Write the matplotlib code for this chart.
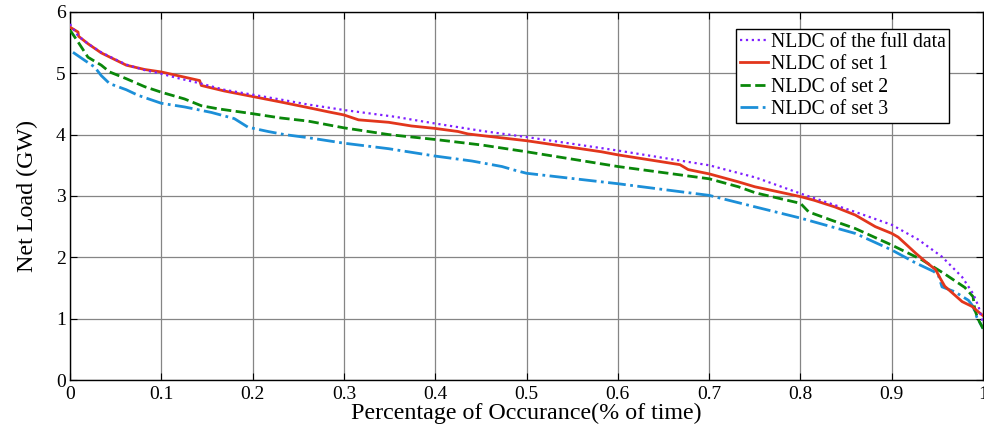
import matplotlib
matplotlib.use("Agg")
import matplotlib.pyplot as plt

plt.rcParams['font.family'] = ['Liberation Serif', 'DejaVu Serif']

# ---- data ----
x_full = [0.0, 0.0088, 0.0197, 0.0343, 0.0489, 0.0617, 0.0818, 0.1, 0.118, 0.1438, 0.169, 0.2, 0.231,
          0.2606, 0.3, 0.356, 0.4, 0.451, 0.5, 0.6, 0.7, 0.751, 0.8, 0.860, 0.9, 0.929, 0.955, 0.977,
          0.989, 0.995, 1.0]
y_full = [5.80, 5.61, 5.48, 5.34, 5.23, 5.14, 5.05, 4.99, 4.92, 4.83, 4.73, 4.65, 4.57,
          4.49, 4.40, 4.29, 4.18, 4.06, 3.96, 3.74, 3.50, 3.30, 3.04, 2.74, 2.53, 2.29, 2.01, 1.68,
          1.41, 1.20, 0.92]

x_set1 = [0.0, 0.0088, 0.0095, 0.0197, 0.0343, 0.0617, 0.0818, 0.1, 0.118, 0.142, 0.1438, 0.169, 0.2,
          0.231, 0.2606, 0.283, 0.3, 0.316, 0.349, 0.374, 0.4, 0.425, 0.436, 0.465, 0.5, 0.582,
          0.6, 0.668, 0.677, 0.7, 0.732, 0.75, 0.8, 0.815, 0.838, 0.860, 0.882, 0.9, 0.907, 0.926,
          0.937, 0.948, 0.953, 0.958, 0.977, 0.988, 0.995, 1.0]
y_set1 = [5.75, 5.67, 5.60, 5.48, 5.33, 5.13, 5.06, 5.02, 4.96, 4.88, 4.80, 4.71, 4.62,
          4.53, 4.44, 4.37, 4.32, 4.24, 4.20, 4.14, 4.10, 4.05, 4.01, 3.96, 3.90, 3.72,
          3.67, 3.51, 3.43, 3.36, 3.23, 3.15, 2.99, 2.93, 2.82, 2.69, 2.50, 2.39, 2.33, 2.07,
          1.93, 1.80, 1.66, 1.53, 1.28, 1.20, 1.11, 1.05]

x_set2 = [0.0, 0.0015, 0.0088, 0.0197, 0.0343, 0.0434, 0.0617, 0.0818, 0.1, 0.1255, 0.1438, 0.162,
          0.2, 0.231, 0.2606, 0.3, 0.349, 0.4, 0.451, 0.5, 0.6, 0.7, 0.732, 0.751, 0.8, 0.809,
          0.835, 0.860, 0.9, 0.933, 0.958, 0.980, 0.989, 0.991, 0.995, 1.0]
y_set2 = [5.70, 5.67, 5.51, 5.26, 5.13, 5.02, 4.91, 4.78, 4.69, 4.58, 4.47, 4.42,
          4.34, 4.27, 4.22, 4.11, 4.00, 3.92, 3.83, 3.72, 3.48, 3.28, 3.15, 3.05, 2.88, 2.74,
          2.60, 2.47, 2.20, 1.96, 1.73, 1.51, 1.36, 1.14, 0.98, 0.84]

x_set3 = [0.0033, 0.016, 0.027, 0.0343, 0.0434, 0.0617, 0.0745, 0.1, 0.1255, 0.155, 0.180, 0.195,
          0.217, 0.235, 0.2606, 0.3, 0.349, 0.4, 0.44, 0.473, 0.487, 0.5, 0.6, 0.7, 0.751, 0.8,
          0.860, 0.9, 0.926, 0.946, 0.951, 0.955, 0.969, 0.984, 0.989, 0.993, 1.0]
y_set3 = [5.34, 5.21, 5.10, 4.96, 4.83, 4.73, 4.64, 4.51, 4.45, 4.36, 4.26, 4.12,
          4.05, 4.00, 3.95, 3.86, 3.77, 3.65, 3.57, 3.48, 3.42, 3.37, 3.20, 3.01, 2.82, 2.64,
          2.39, 2.12, 1.91, 1.77, 1.71, 1.52, 1.44, 1.30, 1.20, 1.03, 0.84]

labels = ['NLDC of the full data', 'NLDC of set 1', 'NLDC of set 2', 'NLDC of set 3']
x_ticks = [0, 0.1, 0.2, 0.3, 0.4, 0.5, 0.6, 0.7, 0.8, 0.9, 1]
x_ticklabels = ['0', '0.1', '0.2', '0.3', '0.4', '0.5', '0.6', '0.7', '0.8', '0.9', '1']
y_ticks = [0, 1, 2, 3, 4, 5, 6]

fig = plt.figure(figsize=(9.84, 4.36), dpi=100)
ax = fig.add_axes([0.0711, 0.128, 0.928, 0.845])

ax.plot(x_full, y_full, color='#7f1fff', linestyle=':', linewidth=1.6, label=labels[0], zorder=5)
ax.plot(x_set1, y_set1, color='#e2361c', linestyle='-', linewidth=2.0, label=labels[1], zorder=4)
ax.plot(x_set2, y_set2, color='#0a870a', linestyle='--', linewidth=2.0, label=labels[2], zorder=3)
ax.plot(x_set3, y_set3, color='#1c8fd8', linestyle='-.', linewidth=2.0, label=labels[3], zorder=2)

ax.set_xlim(0, 1)
ax.set_ylim(0, 6)
ax.set_xticks(x_ticks)
ax.set_xticklabels(x_ticklabels)
ax.set_yticks(y_ticks)
ax.grid(True, color='#858585', linewidth=0.9, linestyle='-')
ax.set_axisbelow(True)
ax.tick_params(direction='in', top=True, right=True, labelsize=14, length=5)
ax.tick_params(axis='x', pad=4)
ax.tick_params(axis='y', pad=3)
for s in ax.spines.values():
    s.set_linewidth(1.0)

ax.set_xlabel('Percentage of Occurance(% of time)', fontsize=17.3, labelpad=0)
ax.set_ylabel('Net Load (GW)', fontsize=17.3, labelpad=13)

leg = ax.legend(loc='upper right', bbox_to_anchor=(0.963, 0.954), fontsize=14.2,
                frameon=True, fancybox=False, edgecolor='black', framealpha=1,
                handlelength=1.4, handletextpad=0.15, labelspacing=0.18, borderpad=0.2,
                borderaxespad=0)
leg.get_frame().set_linewidth(1.0)

fig.savefig('out.png', dpi=100)
